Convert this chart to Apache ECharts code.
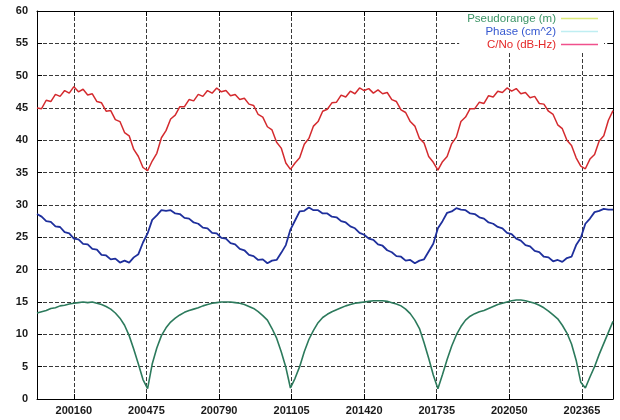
<!DOCTYPE html>
<html>
<head>
<meta charset="utf-8">
<script src="https://cdn.jsdelivr.net/npm/echarts@6/dist/echarts.min.js"></script>
<style>
  html, body { margin: 0; padding: 0; background: #fff; }
  #chart { width: 620px; height: 420px; }
</style>
</head>
<body>
<div id="chart"></div>
<script>
// Time axis: samples every 20 s starting at 200000
const T0 = 200000;
const DT = 20;

// Tick positions on the time axis
const xTicks = [200160, 200475, 200790, 201105, 201420, 201735, 202050, 202365];

// Series names as shown in the key
const names = ['Pseudorange (m)', 'Phase (cm^2)', 'C/No (dB-Hz)'];

// Pseudorange residual (m)
const pseudorange = [
  13.3, 13.5, 13.7, 14.0, 14.1, 14.4, 14.5, 14.7, 14.8, 14.9,
  15.0, 14.9, 15.0, 14.8, 14.6, 14.3, 13.9, 13.3, 12.5, 11.4,
  9.8, 7.7, 5.4, 3.0, 1.6, 5.4, 7.9, 9.8, 11.0, 11.9,
  12.5, 13.0, 13.4, 13.7, 13.9, 14.1, 14.4, 14.6, 14.8, 14.9,
  15.0, 15.0, 15.0, 14.9, 14.8, 14.6, 14.3, 14.0, 13.5, 12.9,
  12.2, 10.9, 9.4, 7.3, 4.9, 1.7, 3.2, 5.0, 7.3, 9.2,
  10.6, 11.8, 12.6, 13.1, 13.5, 13.8, 14.1, 14.4, 14.6, 14.8,
  14.9, 15.0, 15.1, 15.2, 15.2, 15.2, 15.1, 14.9, 14.7, 14.4,
  13.9, 13.2, 12.2, 10.9, 8.7, 6.3, 3.7, 1.6, 3.8, 6.1,
  8.2, 9.9, 11.2, 12.2, 12.8, 13.2, 13.5, 13.7, 14.0, 14.3,
  14.6, 14.8, 15.0, 15.2, 15.3, 15.3, 15.2, 15.0, 14.8, 14.5,
  14.1, 13.6, 13.0, 12.4, 11.4, 10.2, 8.5, 6.0, 2.6, 1.7,
  3.4, 5.0, 6.9, 8.6, 10.3, 12.0
];

// Carrier phase residual (cm^2)
const phase = [
  28.6, 28.2, 27.5, 27.4, 26.7, 26.6, 25.8, 25.6, 24.8, 24.7,
  24.0, 23.9, 23.2, 23.1, 22.3, 22.2, 21.6, 21.7, 21.1, 21.4,
  21.1, 21.9, 22.4, 24.2, 25.6, 27.7, 28.4, 29.2, 29.1, 29.2,
  28.7, 28.6, 28.0, 27.9, 27.3, 27.1, 26.5, 26.4, 25.7, 25.6,
  24.9, 24.8, 24.1, 23.9, 23.2, 23.0, 22.3, 22.1, 21.5, 21.6,
  21.0, 21.4, 21.5, 22.6, 23.8, 26.2, 27.6, 29.0, 29.1, 29.6,
  29.2, 29.2, 28.7, 28.7, 28.2, 28.1, 27.5, 27.3, 26.7, 26.4,
  25.7, 25.4, 24.8, 24.6, 23.9, 23.7, 23.0, 22.7, 22.1, 22.0,
  21.4, 21.5, 21.0, 21.4, 21.6, 22.8, 24.0, 26.4, 27.5, 28.8,
  29.0, 29.5, 29.3, 29.2, 28.7, 28.6, 28.1, 27.9, 27.3, 27.1,
  26.6, 26.4, 25.7, 25.5, 24.8, 24.5, 23.8, 23.6, 22.9, 22.7,
  22.0, 21.9, 21.3, 21.5, 21.2, 21.8, 22.0, 23.8, 24.9, 27.1,
  27.9, 28.9, 29.1, 29.4, 29.3, 29.3
];

// Carrier-to-noise density (dB-Hz)
const cno = [
  45.0, 44.9, 46.2, 46.0, 47.1, 46.8, 47.7, 47.3, 48.3, 47.5,
  47.9, 47.0, 47.2, 46.0, 45.8, 44.5, 44.6, 43.2, 42.9, 41.2,
  40.7, 38.6, 37.5, 35.8, 35.3, 36.8, 38.0, 40.4, 41.5, 43.3,
  43.9, 45.2, 45.2, 46.3, 46.1, 47.1, 46.8, 47.7, 47.3, 48.1,
  47.5, 47.7, 46.9, 47.1, 46.3, 46.5, 45.6, 45.4, 44.0, 43.6,
  42.1, 41.6, 39.7, 38.8, 36.5, 35.5, 36.5, 37.3, 39.4, 40.3,
  42.2, 42.9, 44.5, 44.8, 45.8, 45.9, 47.0, 46.7, 47.6, 47.2,
  48.1, 47.7, 48.0, 47.3, 47.8, 47.2, 47.4, 46.3, 46.0, 44.7,
  44.3, 42.9, 42.2, 40.3, 39.6, 37.5, 36.6, 35.4, 36.7, 37.5,
  39.5, 40.5, 42.9, 43.6, 44.9, 44.9, 45.9, 45.7, 46.9, 46.7,
  47.6, 47.4, 48.1, 47.6, 48.0, 47.2, 47.4, 46.6, 46.8, 45.7,
  45.6, 44.5, 44.0, 42.4, 41.8, 40.0, 39.2, 37.3, 36.0, 35.6,
  37.1, 37.8, 39.9, 40.7, 43.1, 44.6
];

const toPairs = arr => arr.map((v, i) => [T0 + i * DT, v]);

const chart = echarts.init(document.getElementById('chart'), null, { renderer: 'canvas' });

const gridLine = { show: true, lineStyle: { color: '#3a3a3a', width: 1, type: [4, 2] } };
const labelFont = { fontFamily: 'Liberation Sans, Arial, sans-serif', fontSize: 11, color: '#1a1a1a', fontWeight: 'bold' };

chart.setOption({
  animation: false,
  backgroundColor: '#ffffff',
  grid: { left: 37, right: 7, top: 11, bottom: 21, containLabel: false },
  legend: {
    orient: 'vertical',
    align: 'right',
    right: 16,
    top: 12,
    itemGap: 0,
    itemWidth: 37,
    itemHeight: 1.5,
    icon: 'rect',
    padding: [0, 6, 2, 8],
    backgroundColor: '#ffffff',
    textStyle: { fontFamily: 'Liberation Sans, Arial, sans-serif', fontSize: 11.5, lineHeight: 13 },
    data: [
      { name: names[0], itemStyle: { color: '#dcea7c' }, textStyle: { color: '#3c9466' } },
      { name: names[1], itemStyle: { color: '#bfeef2' }, textStyle: { color: '#3558d0' } },
      { name: names[2], itemStyle: { color: '#f0508c' }, textStyle: { color: '#e42828' } }
    ]
  },
  xAxis: [
    {
      type: 'value', min: 200000, max: 202500, position: 'bottom',
      axisLine: { show: true, onZero: false, lineStyle: { color: '#000', width: 1 } },
      axisTick: { show: true, inside: true, length: 5, customValues: xTicks, lineStyle: { color: '#000' } },
      axisLabel: Object.assign({ customValues: xTicks, margin: 6, formatter: v => String(v) }, labelFont),
      splitLine: gridLine
    },
    {
      type: 'value', min: 200000, max: 202500, position: 'top',
      axisLine: { show: true, onZero: false, lineStyle: { color: '#000', width: 1 } },
      axisTick: { show: true, inside: true, length: 5, customValues: xTicks, lineStyle: { color: '#000' } },
      axisLabel: { show: false },
      splitLine: { show: false }
    }
  ],
  yAxis: [
    {
      type: 'value', min: 0, max: 60, interval: 5, position: 'left',
      axisLine: { show: true, onZero: false, lineStyle: { color: '#000', width: 1 } },
      axisTick: { show: true, inside: true, length: 5, lineStyle: { color: '#000' } },
      axisLabel: Object.assign({ margin: 9 }, labelFont),
      splitLine: gridLine
    },
    {
      type: 'value', min: 0, max: 60, interval: 5, position: 'right',
      axisLine: { show: true, onZero: false, lineStyle: { color: '#000', width: 1 } },
      axisTick: { show: true, inside: true, length: 5, lineStyle: { color: '#000' } },
      axisLabel: { show: false },
      splitLine: { show: false }
    }
  ],
  series: [
    {
      name: names[0], type: 'line', data: toPairs(pseudorange),
      showSymbol: false, symbol: 'none', z: 3,
      lineStyle: { color: '#2c7a5c', width: 1.6 },
      itemStyle: { color: '#2c7a5c' }
    },
    {
      name: names[1], type: 'line', data: toPairs(phase),
      showSymbol: false, symbol: 'none', z: 3,
      lineStyle: { color: '#1e2f9c', width: 1.8 },
      itemStyle: { color: '#1e2f9c' }
    },
    {
      name: names[2], type: 'line', data: toPairs(cno),
      showSymbol: false, symbol: 'none', z: 3,
      lineStyle: { color: '#d42a2e', width: 1.5 },
      itemStyle: { color: '#d42a2e' }
    }
  ]
});
</script>
</body>
</html>
